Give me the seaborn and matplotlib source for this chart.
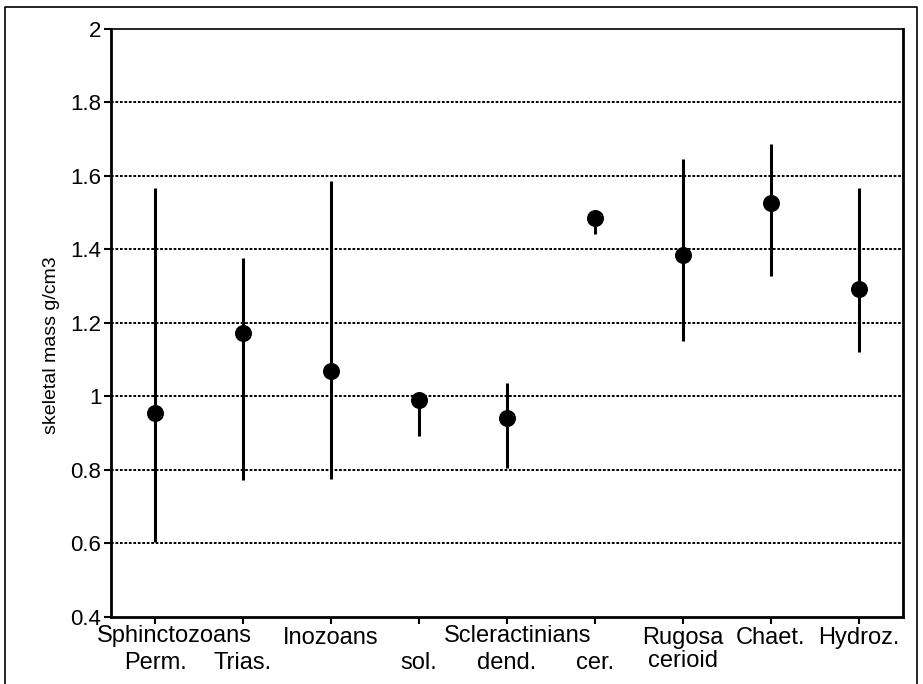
import numpy as np
import matplotlib.pyplot as plt
import seaborn as sns
from matplotlib.lines import Line2D

# skeletal mass per group: point value and range
top_labels = ["", "", "Inozoans", "", "", "", "Rugosa\ncerioid", "Chaet.", "Hydroz."]
sub_pos = [0, 1, 3, 4, 5]
sub_labels = ["Perm.", "Trias.", "sol.", "dend.", "cer."]
group_labels = ["Sphinctozoans", "Scleractinians"]
group_pos = [0.22, 4.12]
mean_mass = [0.955, 1.173, 1.069, 0.990, 0.941, 1.487, 1.386, 1.526, 1.292]
low_mass = [0.604, 0.773, 0.776, 0.893, 0.805, 1.441, 1.150, 1.329, 1.121]
high_mass = [1.567, 1.378, 1.586, 1.000, 1.037, 1.490, 1.647, 1.688, 1.566]
y_ticks = [0.4, 0.6, 0.8, 1.0, 1.2, 1.4, 1.6, 1.8, 2.0]

sns.set_style("ticks")
plt.rcParams["font.family"] = ["Liberation Sans", "DejaVu Sans"]
plt.rcParams["text.color"] = "black"

fig = plt.figure(figsize=(9.23, 6.84), dpi=100)
ax = fig.add_axes([0.1203, 0.098, 0.858, 0.8596])

x = np.arange(len(mean_mass))

# horizontal dotted grid
for yv in y_ticks[1:-1]:
    ax.axhline(yv, color="black", lw=1.4, ls=(0, (1.4, 0.9)), zorder=1)

# ranges and points
ax.vlines(x, low_mass, high_mass, color="black", lw=2.2, zorder=2)
sns.scatterplot(x=x, y=mean_mass, ax=ax, color="black", s=150,
                linewidth=0, zorder=3, legend=False)

ax.set_xlim(-0.5, 8.5)
ax.set_ylim(0.4, 2.0)

# first row of names on the major ticks, second row on minor ticks
ax.xaxis.remove_overlapping_locs = False
ax.set_xticks(x)
ax.set_xticklabels(top_labels, fontsize=17, linespacing=1.1)
ax.set_xticks(sub_pos, minor=True)
ax.set_xticklabels(sub_labels, minor=True, fontsize=17)
ax.tick_params(axis="x", which="minor", length=0, pad=25)

ax.set_yticks(y_ticks)
ax.set_yticklabels([f"{v:g}" for v in y_ticks], fontsize=16)
ax.tick_params(axis="both", which="major", direction="out", length=5,
               width=1.5, color="black", labelcolor="black", pad=2)
ax.tick_params(axis="x", which="minor", labelcolor="black")

for group, pos in zip(group_labels, group_pos):
    ax.annotate(group, xy=(pos, 0), xycoords=ax.get_xaxis_transform(),
                xytext=(0, -(5 * 0.72 + 2)), textcoords="offset points",
                ha="center", va="top", fontsize=17, color="black")

ax.set_ylabel("skeletal mass g/cm3", fontsize=14, color="black")
ax.yaxis.set_label_coords(-0.064, 0.463)

for side in ["left", "bottom", "right"]:
    ax.spines[side].set_linewidth(2)
    ax.spines[side].set_color("black")
ax.spines["top"].set_linewidth(1.2)
ax.spines["top"].set_color("black")

# frame round the whole figure (open at the bottom as in the scan)
fig.add_artist(Line2D([5 / 923, 5 / 923, 917 / 923, 917 / 923],
                      [0, 1 - 7 / 684, 1 - 7 / 684, 0],
                      transform=fig.transFigure, color="black", lw=1.2))

fig.savefig("out.png", dpi=100)
